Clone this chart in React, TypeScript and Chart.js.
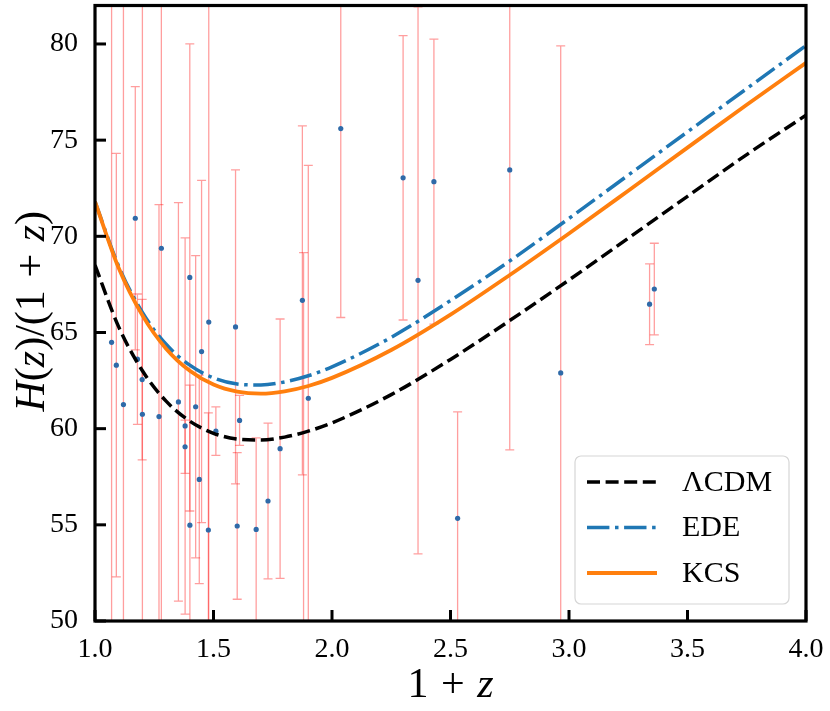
import { useEffect, useRef } from 'react'
import Chart from 'chart.js/auto'

const FAMILY = '"Liberation Serif", "DejaVu Serif", serif'

// axis ticks
const xTicks = [1.0, 1.5, 2.0, 2.5, 3.0, 3.5, 4.0]
const yTicks = [50, 55, 60, 65, 70, 75, 80]

// model curves
const modelX = [1.0, 1.1, 1.2, 1.3, 1.4, 1.5, 1.6, 1.7, 1.8, 1.9, 2.0, 2.25, 2.5, 2.75, 3.0, 3.25, 3.5, 3.75, 4.0]
const lcdmY = [68.5, 65.29, 63.01, 61.43, 60.39, 59.76, 59.46, 59.41, 59.56, 59.87, 60.3, 61.77, 63.6, 65.62, 67.73, 69.9, 72.08, 74.25, 76.3]
const edeY = [71.8, 68.44, 66.04, 64.39, 63.3, 62.64, 62.32, 62.27, 62.43, 62.75, 63.21, 64.75, 66.66, 68.72, 70.93, 73.18, 75.43, 77.68, 79.92]
const kcsY = [71.8, 68.35, 65.89, 64.16, 63.01, 62.29, 61.92, 61.82, 61.94, 62.22, 62.64, 64.09, 65.93, 67.99, 70.15, 72.37, 74.61, 76.84, 79.02]

// observational points: 1+z, H/(1+z), error
const obsX = [1.07, 1.09, 1.12, 1.17, 1.179, 1.199, 1.2, 1.27, 1.28, 1.352, 1.3802, 1.4, 1.4004, 1.4247, 1.4497, 1.4783, 1.48, 1.593, 1.68, 1.781, 1.875, 1.88, 1.9, 2.037, 2.3, 2.363, 2.43, 2.53, 2.75, 2.965, 1.38, 1.51, 1.61, 1.44, 1.6, 1.73, 3.34, 3.36]
const obsY = [64.49, 63.3, 61.25, 70.94, 63.61, 62.55, 60.75, 60.63, 69.38, 61.39, 60.14, 67.86, 54.98, 61.14, 64.01, 54.73, 65.54, 65.29, 54.76, 58.96, 66.67, 47.87, 61.58, 75.6, 73.04, 67.71, 72.84, 55.34, 73.45, 62.9, 59.06, 59.87, 60.43, 57.36, 54.94, 56.24, 66.47, 67.26]
const obsErr = [18.32, 11.01, 23.39, 6.84, 3.39, 4.17, 24.67, 11.02, 28.59, 10.36, 9.78, 12.14, 7.28, 7.86, 8.9, 6.09, 41.89, 8.16, 4.76, 6.74, 9.07, 21.28, 12.11, 9.82, 7.39, 14.22, 7.41, 5.53, 14.55, 17.0, 1.38, 1.26, 1.3, 5.42, 3.81, 4.05, 2.1, 2.38]

type Seg = { t?: string; it?: boolean; gap?: number }

function drawRich(ctx: CanvasRenderingContext2D, segs: Seg[], size: number) {
  const font = (it?: boolean) => `${it ? 'italic ' : ''}${size}px ${FAMILY}`
  const widths = segs.map((s) => {
    if (s.gap) return s.gap * size
    ctx.font = font(s.it)
    return ctx.measureText(s.t || '').width
  })
  const total = widths.reduce((a, b) => a + b, 0)
  let x = -total / 2
  segs.forEach((s, i) => {
    if (!s.gap) {
      ctx.font = font(s.it)
      ctx.fillText(s.t || '', x, 0)
    }
    x += widths[i]
  })
}

const errorBars = {
  id: 'errorBars',
  beforeDatasetsDraw(chart: any) {
    const { ctx, chartArea, scales } = chart
    const meta = chart.getDatasetMeta(0)
    ctx.save()
    ctx.beginPath()
    ctx.rect(chartArea.left, chartArea.top, chartArea.right - chartArea.left, chartArea.bottom - chartArea.top)
    ctx.clip()
    ctx.strokeStyle = 'rgba(255, 0, 0, 0.38)'
    ctx.lineWidth = 1.3
    meta.data.forEach((pt: any, i: number) => {
      const x = pt.x
      const y0 = scales.y.getPixelForValue(obsY[i] - obsErr[i])
      const y1 = scales.y.getPixelForValue(obsY[i] + obsErr[i])
      ctx.beginPath()
      ctx.moveTo(x, y0)
      ctx.lineTo(x, y1)
      ctx.moveTo(x - 4.5, y0)
      ctx.lineTo(x + 4.5, y0)
      ctx.moveTo(x - 4.5, y1)
      ctx.lineTo(x + 4.5, y1)
      ctx.stroke()
    })
    ctx.restore()
  },
}

const frame = {
  id: 'frame',
  afterDatasetsDraw(chart: any) {
    const { ctx, chartArea, scales } = chart
    const { left, right, top, bottom } = chartArea
    ctx.save()
    ctx.strokeStyle = '#000'
    ctx.lineWidth = 3
    xTicks.forEach((v) => {
      const px = scales.x.getPixelForValue(v)
      ctx.beginPath()
      ctx.moveTo(px, bottom)
      ctx.lineTo(px, bottom - 11)
      ctx.stroke()
    })
    yTicks.forEach((v) => {
      const py = scales.y.getPixelForValue(v)
      ctx.beginPath()
      ctx.moveTo(left, py)
      ctx.lineTo(left + 11, py)
      ctx.stroke()
    })
    ctx.lineWidth = 3.2
    ctx.strokeRect(left, top, right - left, bottom - top)
    ctx.restore()
  },
  afterDraw(chart: any) {
    const { ctx, chartArea } = chart
    ctx.save()
    ctx.fillStyle = '#000'
    ctx.textBaseline = 'alphabetic'

    // x title
    ctx.save()
    ctx.translate((chartArea.left + chartArea.right) / 2, 697)
    drawRich(ctx, [{ t: '1' }, { gap: 0.3 }, { t: '+' }, { gap: 0.3 }, { t: 'z', it: true }], 42)
    ctx.restore()

    // y title
    ctx.save()
    ctx.translate(44, (chartArea.top + chartArea.bottom) / 2 - 2)
    ctx.rotate(-Math.PI / 2)
    drawRich(
      ctx,
      [
        { t: 'H', it: true },
        { t: '(' },
        { t: 'z', it: true },
        { t: ')/(1' },
        { gap: 0.3 },
        { t: '+' },
        { gap: 0.3 },
        { t: 'z', it: true },
        { t: ')' },
      ],
      42
    )
    ctx.restore()

    // legend
    const w = 214
    const h = 148
    const bx = chartArea.right - 17 - w
    const by = chartArea.bottom - 17 - h
    ctx.beginPath()
    ctx.roundRect(bx, by, w, h, 6)
    ctx.fillStyle = 'rgba(255,255,255,0.85)'
    ctx.fill()
    ctx.strokeStyle = '#d6d6d6'
    ctx.lineWidth = 1.2
    ctx.stroke()

    const order = [1, 2, 3]
    order.forEach((di, row) => {
      const ds = chart.data.datasets[di]
      const cy = by + 26 + row * 45.5
      ctx.beginPath()
      ctx.setLineDash(ds.borderDash || [])
      ctx.strokeStyle = ds.borderColor
      ctx.lineWidth = ds.borderWidth
      ctx.moveTo(bx + 12, cy)
      ctx.lineTo(bx + 82, cy)
      ctx.stroke()
      ctx.setLineDash([])
      ctx.fillStyle = '#000'
      ctx.font = `30px ${FAMILY}`
      ctx.textBaseline = 'middle'
      ctx.fillText(ds.label, bx + 107, cy + 1)
    })
    ctx.restore()
  },
}

export default function App() {
  const canvasRef = useRef<HTMLCanvasElement>(null)

  useEffect(() => {
    if (!canvasRef.current) return
    const zip = (xs: number[], ys: number[]) => xs.map((x, i) => ({ x, y: ys[i] }))

    const chart = new Chart(canvasRef.current, {
      type: 'scatter',
      data: {
        datasets: [
          {
            label: 'data',
            data: zip(obsX, obsY),
            pointRadius: 2.6,
            pointBackgroundColor: '#2f6aa8',
            pointBorderWidth: 0,
            order: 4,
          },
          {
            label: 'ΛCDM',
            data: zip(modelX, lcdmY),
            showLine: true,
            borderColor: '#000000',
            borderWidth: 3.5,
            borderDash: [13, 5.6],
            pointRadius: 0,
            cubicInterpolationMode: 'monotone',
            order: 3,
          },
          {
            label: 'EDE',
            data: zip(modelX, edeY),
            showLine: true,
            borderColor: '#1f77b4',
            borderWidth: 3.5,
            borderDash: [22.4, 5.6, 3.5, 5.6],
            pointRadius: 0,
            cubicInterpolationMode: 'monotone',
            order: 2,
          },
          {
            label: 'KCS',
            data: zip(modelX, kcsY),
            showLine: true,
            borderColor: '#ff7f0e',
            borderWidth: 3.8,
            pointRadius: 0,
            cubicInterpolationMode: 'monotone',
            order: 1,
          },
        ],
      } as any,
      options: {
        animation: false,
        responsive: true,
        maintainAspectRatio: false,
        layout: { padding: { left: 0, right: 24, top: 5.5, bottom: 0 } },
        plugins: {
          legend: { display: false },
          tooltip: { enabled: false },
        },
        scales: {
          x: {
            type: 'linear',
            min: 1,
            max: 4,
            grid: { display: false, drawTicks: false },
            border: { display: false },
            afterBuildTicks: (s: any) => {
              s.ticks = xTicks.map((value) => ({ value }))
            },
            afterFit: (s: any) => {
              s.height = 90
              s.paddingLeft = 0
              s.paddingRight = 0
            },
            ticks: {
              color: '#000',
              padding: 12,
              maxRotation: 0,
              autoSkip: false,
              font: { family: FAMILY, size: 28 },
              callback: (v: any) => Number(v).toFixed(1),
            },
          },
          y: {
            type: 'linear',
            min: 50,
            max: 82,
            grid: { display: false, drawTicks: false },
            border: { display: false },
            afterBuildTicks: (s: any) => {
              s.ticks = yTicks.map((value) => ({ value }))
            },
            afterFit: (s: any) => {
              s.width = 95
              s.paddingTop = 0
              s.paddingBottom = 0
            },
            ticks: {
              color: '#000',
              padding: 17,
              autoSkip: false,
              font: { family: FAMILY, size: 28 },
              callback: (v: any) => String(v),
            },
          },
        },
      },
      plugins: [errorBars, frame],
    })

    return () => chart.destroy()
  }, [])

  return (
    <div style={{ position: 'fixed', left: 0, top: 0, width: 830, height: 711, background: '#fff' }}>
      <canvas ref={canvasRef} />
    </div>
  )
}
